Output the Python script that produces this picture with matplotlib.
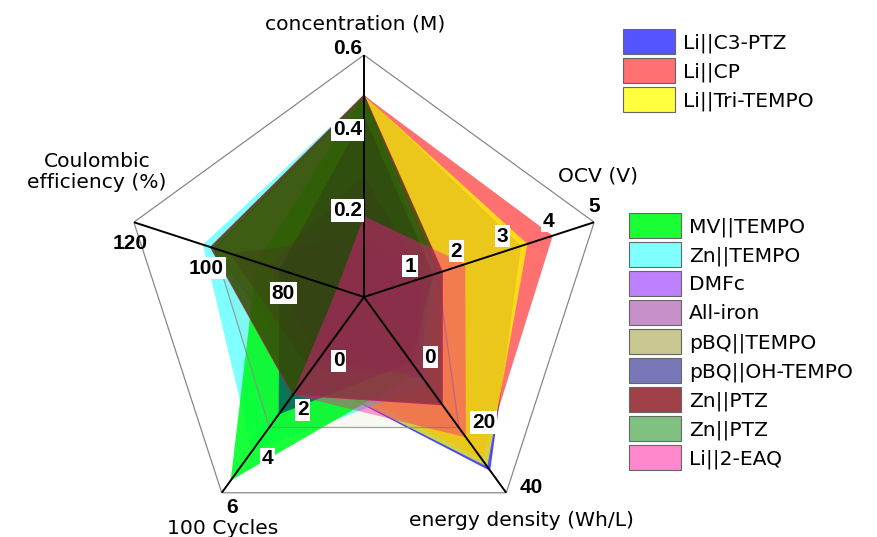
import numpy as np
import matplotlib
matplotlib.use("Agg")
import matplotlib.pyplot as plt
from matplotlib.patches import Patch

plt.rcParams['font.family'] = ['DejaVu Sans']

# radar axes (clockwise from the top) and their value ranges
axis_names = ['concentration (M)', 'OCV (V)', 'energy density (Wh/L)',
              '100 Cycles', 'Coulombic\nefficiency (%)']
axis_lo = [0.0, 0.0, -20.0, -2.0, 60.0]
axis_hi = [0.6, 5.0, 40.0, 6.0, 120.0]
axis_ticks = [
    ['0.2', '0.4', '0.6'],
    ['1', '2', '3', '4', '5'],
    ['0', '20', '40'],
    ['0', '2', '4', '6'],
    ['80', '100', '120'],
]

# conc, OCV, energy density, cycles, CE
li_c3ptz = [0.5, 3.4, 33, 1.2, 99]
li_cp = [0.5, 4.1, 30, 1.0, 99]
li_tritempo = [0.5, 3.55, 32, 1.2, 99]
mv_tempo = [0.5, 1.5, 3, 5.5, 88]
zn_tempo = [0.5, 1.6, 7, 4.3, 102]
dmfc = [0.3, 1.3, 5, 0.5, 85]
all_iron = [0.15, 1.2, 3, 1.0, 95]
pbq_tempo = [0.5, 1.6, 20, 3.33, 99]
pbq_ohtempo = [0.45, 1.5, 0, 2.8, 82]
zn_ptz_a = [0.5, 1.7, 13, 2.0, 100]
zn_ptz_b = [0.5, 1.7, 13, 2.0, 100]
li_2eaq = [0.2, 2.2, 23, 2.0, 67]

# (label, values, fill colour, fill alpha, outline, legend swatch)
group1 = [
    ('Li||C3-PTZ', li_c3ptz, (0, 0, 1), 0.67, '#3333ff', '#5555ff'),
    ('Li||CP', li_cp, (1, 0, 0), 0.56, None, '#ff7070'),
    ('Li||Tri-TEMPO', li_tritempo, (1, 1, 0), 0.75, None, '#ffff40'),
]
group2 = [
    ('MV||TEMPO', mv_tempo, (0, 1, 0.15), 0.9, None, '#1aff33'),
    ('Zn||TEMPO', zn_tempo, (0, 1, 1), 0.5, None, '#80ffff'),
    ('DMFc', dmfc, (0.5, 0, 1), 0.5, None, '#bf80ff'),
    ('All-iron', all_iron, (0.57, 0.13, 0.57), 0.5, None, '#c890c8'),
    ('pBQ||TEMPO', pbq_tempo, (0.51, 0.51, 0.01), 0.05, '#8a8a8a', '#c8c890'),
    ('pBQ||OH-TEMPO', pbq_ohtempo, (0, 0, 0.45), 0.53, None, '#7878b8'),
    ('Zn||PTZ', zn_ptz_a, (0.5, 0, 0.04), 0.75, '#c0104a', '#a04048'),
    ('Zn||PTZ', zn_ptz_b, (0, 0.5, 0), 0.5, None, '#80c080'),
    ('Li||2-EAQ', li_2eaq, (1, 0.08, 0.58), 0.42, None, '#ff88cc'),
]

# stacking order of the fills (Zn||TEMPO sits under MV||TEMPO)
layers = group1 + [group2[1], group2[0]] + group2[2:]

n = len(axis_names)
theta = np.arange(n) * 2 * np.pi / n


def norm(values):
    return [(v - lo) / (hi - lo) for v, lo, hi in zip(values, axis_lo, axis_hi)]


fig = plt.figure(figsize=(8.77, 5.37), dpi=100)
W, H = 877, 537
cx, cy, R = 364, 297, 242
ax = fig.add_axes([(cx - R) / W, (H - cy - R) / H, 2 * R / W, 2 * R / H],
                  projection='polar')
ax.set_theta_offset(np.pi / 2)
ax.set_theta_direction(-1)
ax.set_ylim(0, 1)
ax.set_axis_off()

# outer pentagon
t_closed = np.append(theta, theta[0])
ax.plot(t_closed, np.ones(n + 1), color='#888888', lw=0.9, zorder=1)

for name, vals, col, a, edge, _ in layers:
    r = norm(vals)
    r = np.append(r, r[0])
    ax.fill(t_closed, r, color=col, alpha=a, lw=0, zorder=2)
    if edge:
        ax.plot(t_closed, r, color=edge, alpha=0.8, lw=0.9, zorder=2)

# spokes
for t in theta:
    ax.plot([t, t], [0, 1], color='black', lw=1.4, zorder=3)

# tick labels: pixel offsets (right, up) and alignment per axis
px = 72 / 100
tick_style = [
    ((-2, 6), 'right'),
    ((0, 16), 'center'),
    ((13, 5), 'left'),
    ((10, -15), 'center'),
    ((-4, -21), 'center'),
]
for i, labels in enumerate(axis_ticks):
    k = len(labels)
    (dx, dy), ha = tick_style[i]
    for j, lab in enumerate(labels):
        r = (j + 1) / k if i != 3 else (j + 1) / 4
        outer = j == k - 1
        ax.annotate(lab, xy=(theta[i], r), xytext=(dx * px, dy * px),
                    textcoords='offset points', ha=ha, va='center',
                    family='Liberation Sans', fontsize=15, fontweight='bold',
                    zorder=5,
                    bbox=None if outer else dict(boxstyle='square,pad=0.08',
                                                 fc='white', ec='none'))

# axis titles
title_pos = [(355, 24), (598, 176), (521, 520), (223, 528), (97, 172)]
for name, (x, y) in zip(axis_names, title_pos):
    fig.text(x / W, 1 - y / H, name, ha='center', va='center', fontsize=14.6,
             linespacing=1.1)


def handles(group):
    return [Patch(facecolor=sw, edgecolor=(0.4, 0.4, 0.4), lw=0.8)
            for *_, sw in group]


fs = 14.6 * 100 / 72
leg_kw = dict(loc='upper left', frameon=False, fontsize=14.6, borderpad=0,
              borderaxespad=0, handlelength=52 / fs, handleheight=1.52,
              labelspacing=4 / fs, handletextpad=8 / fs)
fig.legend(handles(group1), [g[0] for g in group1],
           bbox_to_anchor=(623 / W, 1 - 29 / H), **leg_kw)
fig.legend(handles(group2), [g[0] for g in group2],
           bbox_to_anchor=(629 / W, 1 - 213 / H), **leg_kw)

fig.savefig('out.png', dpi=100)
